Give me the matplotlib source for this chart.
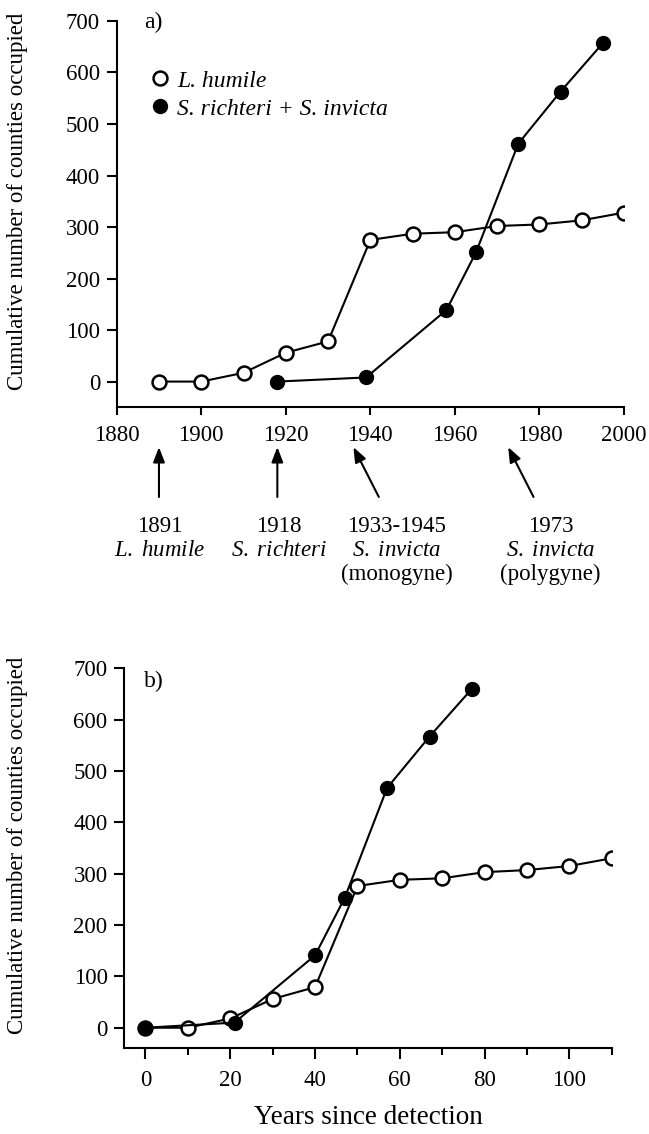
import numpy as np
import matplotlib
matplotlib.use('Agg')
import matplotlib.pyplot as plt
from matplotlib.lines import Line2D

# Data: panel a (calendar year)
years_humile = [1890, 1900, 1910, 1920, 1930, 1940, 1950, 1960, 1970, 1980, 1990, 2000]
counties_humile = [0, 0, 17, 56, 78, 275, 287, 290, 302, 305, 313, 328]
years_solenopsis = [1918, 1939, 1958, 1965, 1975, 1985, 1995]
counties_solenopsis = [0, 8, 139, 251, 462, 563, 657]

# Data: panel b (years since detection)
since_humile = [0, 10, 20, 30, 40, 50, 60, 70, 80, 90, 100, 110]
since_counties_humile = [0, 0, 18, 56, 79, 276, 288, 291, 303, 307, 315, 330]
since_solenopsis = [0, 21, 40, 47, 57, 67, 77]
since_counties_solenopsis = [0, 10, 141, 253, 467, 567, 660]

# Introduction events shown under panel a
event_labels = ['1891\n$\\it{L.\\ humile}$', '1918\n$\\it{S.\\ richteri}$',
                '1933-1945\n$\\it{S.\\ invicta}$\n(monogyne)',
                '1973\n$\\it{S.\\ invicta}$\n(polygyne)']
event_tips = [1890, 1918, 1936, 1972.6]
event_tails = [1890, 1918, 1942, 1978.6]
event_text_x = [1890.2, 1918.4, 1946.2, 1982.6]

plt.rcParams['font.family'] = ['Liberation Serif', 'DejaVu Serif']
plt.rcParams['mathtext.fontset'] = 'custom'
plt.rcParams['mathtext.it'] = 'Liberation Serif:italic'
plt.rcParams['mathtext.rm'] = 'Liberation Serif'

fig = plt.figure(figsize=(6.49, 11.34), dpi=100)
ax_a = fig.add_axes([0.1798, 0.6408, 0.7817, 0.3407])
ax_b = fig.add_axes([0.1915, 0.0756, 0.7512, 0.3351])

open_style = dict(color='black', lw=1.5, marker='o', markersize=10,
                  markerfacecolor='white', markeredgecolor='black', markeredgewidth=1.8)
filled_style = dict(color='black', lw=1.5, marker='o', markersize=10,
                    markerfacecolor='black', markeredgecolor='black')

ylabel = 'Cumulative number of counties occupied'

for ax in (ax_a, ax_b):
    for side in ('top', 'right'):
        ax.spines[side].set_visible(False)
    for side in ('left', 'bottom'):
        ax.spines[side].set_linewidth(1.5)
    ax.tick_params(direction='out', width=1.5, length=7, labelsize=16.5, pad=5)
    ax.set_yticks(np.arange(0, 701, 100))
    ax.set_ylabel(ylabel, fontsize=16.5)

# Panel a
ax_a.plot(years_humile, counties_humile, zorder=3, **open_style)
ax_a.plot(years_solenopsis, counties_solenopsis, zorder=4, **filled_style)
ax_a.set_xlim(1880, 2000)
ax_a.set_ylim(-50, 700)
ax_a.set_xticks(np.arange(1880, 2001, 20))
ax_a.tick_params(axis='x', length=6, pad=7)
ax_a.spines['left'].set_bounds(-50, 700)
ax_a.yaxis.set_label_coords(-0.175, 0.534)
ax_a.text(0.055, 0.995, 'a)', transform=ax_a.transAxes, fontsize=17, va='center')

handles = [Line2D([], [], linestyle='none', marker='o', markersize=10, markerfacecolor='white',
                  markeredgecolor='black', markeredgewidth=1.8),
           Line2D([], [], linestyle='none', marker='o', markersize=10, markerfacecolor='black',
                  markeredgecolor='black')]
leg = ax_a.legend(handles, ['L. humile', 'S. richteri + S. invicta'], loc='upper left',
                  bbox_to_anchor=(0.024, 0.928), frameon=False, handlelength=0.8,
                  handletextpad=0.35, labelspacing=0.28, fontsize=17)
for t in leg.get_texts():
    t.set_fontstyle('italic')

trans = ax_a.get_xaxis_transform()
for label, tip, tail, tx in zip(event_labels, event_tips, event_tails, event_text_x):
    ax_a.annotate('', xy=(tip, -0.103), xycoords=trans, xytext=(tail, -0.232), textcoords=trans,
                  arrowprops=dict(arrowstyle='-|>,head_length=0.9,head_width=0.35',
                                  color='black', lw=1.5, shrinkA=0, shrinkB=0),
                  annotation_clip=False)
    ax_a.text(tx, -0.28, label, transform=trans, ha='center', va='top', fontsize=16.5,
              linespacing=1.2)

# Panel b
ax_b.plot(since_humile, since_counties_humile, zorder=3, **open_style)
ax_b.plot(since_solenopsis, since_counties_solenopsis, zorder=4, **filled_style)
ax_b.set_xlim(-5, 110)
ax_b.set_ylim(-40, 700)
ax_b.set_xticks(np.arange(0, 101, 20))
ax_b.set_xticks(np.arange(10, 111, 20), minor=True)
ax_b.tick_params(axis='x', which='major', length=8, pad=8)
ax_b.tick_params(axis='x', which='minor', length=5, width=1.5)
ax_b.spines['left'].set_bounds(-40, 700)
ax_b.yaxis.set_label_coords(-0.1975, 0.535)
ax_b.set_xlabel('Years since detection', fontsize=19.5, labelpad=10)
ax_b.text(0.04, 0.965, 'b)', transform=ax_b.transAxes, fontsize=17, va='center')

fig.savefig('out.png', dpi=100)
